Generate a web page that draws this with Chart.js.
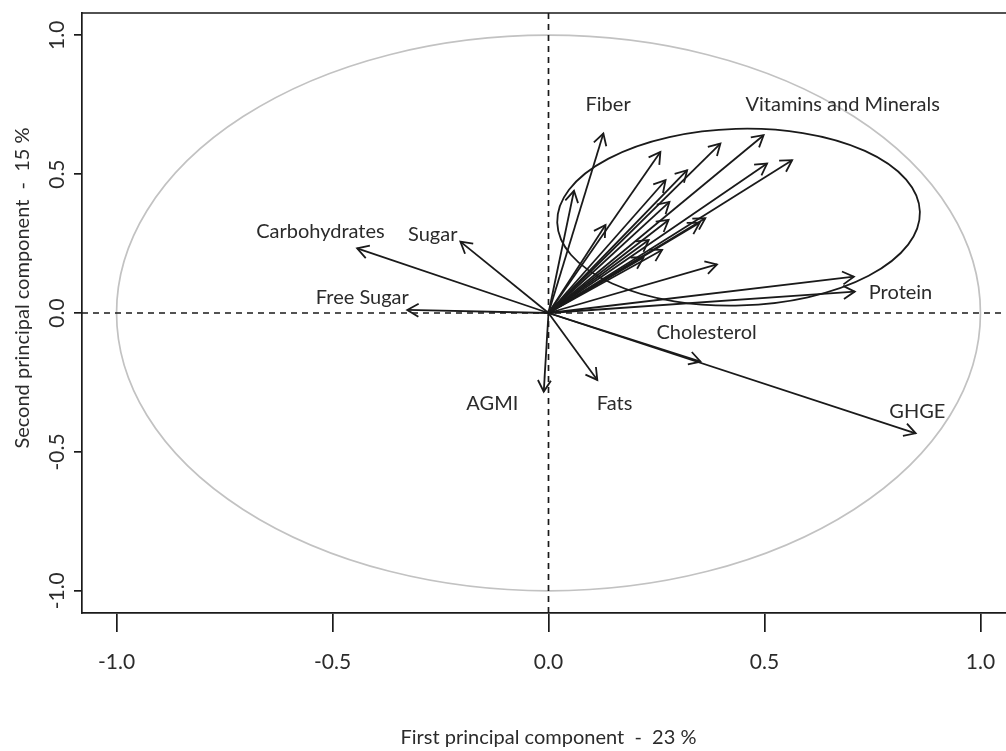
<!DOCTYPE html>
<html><head><meta charset="utf-8">
<script src="https://cdn.jsdelivr.net/npm/chart.js@4.4.1/dist/chart.umd.min.js"></script>
<style>html,body{margin:0;padding:0;background:#fff;overflow:hidden;}#wrap{width:1020px;height:751px;}</style>
</head><body><div id="wrap"><canvas id="c" width="1020" height="751"></canvas></div>
<script>
// Arrow tips (loadings on PC1 / PC2)
const arrowNames = ["Fiber","v1","v2","v3","v4","v5","v6","v7","v8","v9","v10","v11","v12","v13","v14","v15","v16","v17","v18","Protein","Carbohydrates","Sugar","Free Sugar","AGMI","Fats","Cholesterol","GHGE"];
const arrowX = [0.127,0.059,0.259,0.398,0.498,0.564,0.506,0.321,0.271,0.280,0.278,0.363,0.350,0.132,0.232,0.263,0.220,0.390,0.707,0.709,-0.443,-0.204,-0.327,-0.011,0.113,0.352,0.850];
const arrowY = [0.646,0.440,0.580,0.610,0.640,0.550,0.538,0.514,0.478,0.400,0.335,0.341,0.325,0.317,0.263,0.227,0.200,0.175,0.131,0.077,0.233,0.257,0.011,-0.283,-0.241,-0.175,-0.433];
// Text labels
const labelNames = ["Fiber","Vitamins and Minerals","Carbohydrates","Sugar","Free Sugar","Protein","Cholesterol","AGMI","Fats","GHGE"];
const labelX = [0.138,0.681,-0.528,-0.268,-0.431,0.815,0.366,-0.130,0.153,0.854];
const labelY = [0.752,0.752,0.295,0.284,0.054,0.072,-0.072,-0.327,-0.327,-0.353];
// Axis ticks
const xTicks = [-1.0,-0.5,0.0,0.5,1.0];
const yTicks = [-1.0,-0.5,0.0,0.5,1.0];
// Group ellipse (center, semi-axes in data units, rotation radians)
const ellCenter = [0.440,0.345];
const ellAxes = [0.420,0.318];
const ellRot = -0.03;

const xTitle = "First principal component  -  23 %";
const yTitle = "Second principal component  -  15 %";

const INK = '#1a1a1a';
const TXT = '#2b2b2b';

const datasets = [
  {data:[{x:-1.08,y:0},{x:1.08,y:0}], showLine:true, borderColor:INK, borderWidth:1.7, borderDash:[6,5], pointRadius:0, isArrow:false},
  {data:[{x:0,y:-1.08},{x:0,y:1.08}], showLine:true, borderColor:INK, borderWidth:1.7, borderDash:[6,5], pointRadius:0, isArrow:false}
];
arrowX.forEach((ax,i)=>{
  datasets.push({label:arrowNames[i], data:[{x:0,y:0},{x:ax,y:arrowY[i]}], showLine:true, borderColor:INK, borderWidth:1.8, pointRadius:0, isArrow:true});
});

const shapes = {
  id:'shapes',
  beforeDatasetsDraw(chart){
    const {ctx, scales:{x,y}, chartArea:a} = chart;
    ctx.save();
    ctx.beginPath(); ctx.rect(a.left,a.top,a.right-a.left,a.bottom-a.top); ctx.clip();
    const cx = x.getPixelForValue(0), cy = y.getPixelForValue(0);
    ctx.beginPath();
    ctx.ellipse(cx, cy, x.getPixelForValue(1)-cx, cy-y.getPixelForValue(1), 0, 0, Math.PI*2);
    ctx.strokeStyle = '#c2c2c2'; ctx.lineWidth = 1.7; ctx.stroke();
    const ex = x.getPixelForValue(ellCenter[0]), ey = y.getPixelForValue(ellCenter[1]);
    ctx.beginPath();
    ctx.ellipse(ex, ey, x.getPixelForValue(ellCenter[0]+ellAxes[0])-ex, ey-y.getPixelForValue(ellCenter[1]+ellAxes[1]), ellRot, 0, Math.PI*2);
    ctx.strokeStyle = INK; ctx.lineWidth = 1.8; ctx.stroke();
    ctx.restore();
  },
  afterDatasetsDraw(chart){
    const {ctx, scales:{x,y}, chartArea:a} = chart;
    ctx.save();
    chart.data.datasets.forEach((ds,i)=>{
      if(!ds.isArrow) return;
      const pts = chart.getDatasetMeta(i).data;
      const p0 = pts[0], p1 = pts[1];
      const ang = Math.atan2(p1.y-p0.y, p1.x-p0.x);
      const L = 13, w = Math.PI/6;
      ctx.beginPath();
      ctx.moveTo(p1.x - L*Math.cos(ang-w), p1.y - L*Math.sin(ang-w));
      ctx.lineTo(p1.x, p1.y);
      ctx.lineTo(p1.x - L*Math.cos(ang+w), p1.y - L*Math.sin(ang+w));
      ctx.strokeStyle = INK; ctx.lineWidth = 1.8; ctx.lineJoin='miter'; ctx.stroke();
    });
    ctx.fillStyle = TXT;
    ctx.font = '20px Lato';
    ctx.textAlign = 'center'; ctx.textBaseline = 'middle';
    labelNames.forEach((t,i)=>{
      ctx.fillText(t, x.getPixelForValue(labelX[i]), y.getPixelForValue(labelY[i]));
    });
    ctx.strokeStyle = INK; ctx.lineWidth = 1.7;
    ctx.beginPath(); ctx.moveTo(a.left, a.top); ctx.lineTo(a.right, a.top); ctx.lineTo(a.right,a.bottom); ctx.stroke();
    ctx.restore();
  },
  afterDraw(chart){
    const {ctx, scales:{x,y}} = chart;
    ctx.save();
    ctx.fillStyle = TXT;
    ctx.font = '20px Lato';
    ctx.textAlign = 'center'; ctx.textBaseline = 'middle';
    ctx.fillText(xTitle, x.getPixelForValue(0), 738);
    ctx.translate(23, 288);
    ctx.rotate(-Math.PI/2);
    ctx.fillText(yTitle, 0, 0);
    ctx.restore();
  }
};

new Chart(document.getElementById('c'), {
  type:'scatter',
  data:{datasets},
  options:{
    responsive:false, animation:false, devicePixelRatio:1,
    layout:{padding:{left:0, top:13, right:5, bottom:0}},
    plugins:{legend:{display:false}, tooltip:{enabled:false}},
    scales:{
      x:{
        type:'linear', min:-1.08, max:1.08,
        afterBuildTicks:s=>{ s.ticks = xTicks.map(v=>({value:v})); },
        afterFit:s=>{ s.height = 138; s.paddingLeft = 0; s.paddingRight = 0; },
        ticks:{callback:v=>v.toFixed(1), font:{family:'Lato', size:21}, color:TXT, padding:18, maxRotation:0},
        grid:{drawOnChartArea:false, tickLength:19, color:INK, lineWidth:1.7},
        border:{color:INK, width:1.7}
      },
      y:{
        type:'linear', min:-1.08, max:1.08,
        afterBuildTicks:s=>{ s.ticks = yTicks.map(v=>({value:v})); },
        afterFit:s=>{ s.width = 82; s.paddingTop = 0; s.paddingBottom = 0; },
        ticks:{callback:v=>v.toFixed(1), font:{family:'Lato', size:21}, color:TXT, padding:-2, minRotation:90, maxRotation:90, crossAlign:'center'},
        grid:{drawOnChartArea:false, tickLength:8, color:INK, lineWidth:1.7},
        border:{color:INK, width:1.7}
      }
    }
  },
  plugins:[shapes]
});
</script>
</body></html>
